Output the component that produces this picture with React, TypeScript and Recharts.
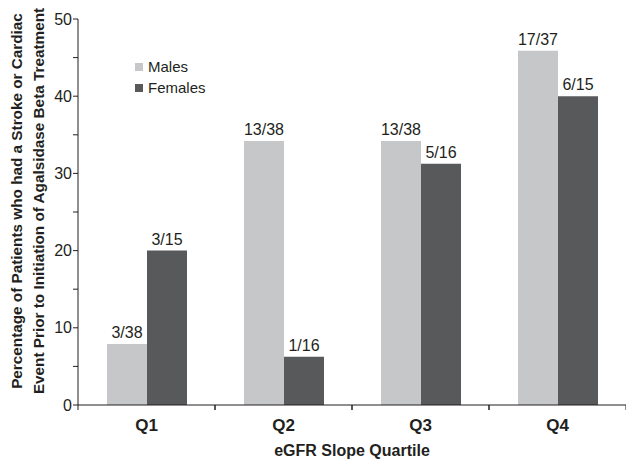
import { BarChart, Bar, XAxis, YAxis, Legend, LabelList } from 'recharts';

const quartiles = ['Q1', 'Q2', 'Q3', 'Q4'];
const malesPct = [7.9, 34.2, 34.2, 45.9];
const femalesPct = [20.0, 6.25, 31.25, 40.0];
const malesLabels = ['3/38', '13/38', '13/38', '17/37'];
const femalesLabels = ['3/15', '1/16', '5/16', '6/15'];
const yTicks = [0, 5, 10, 15, 20, 25, 30, 35, 40, 45, 50];
const legendOrder = ['Males', 'Females'];
const yTitle = [
  'Percentage of Patients who had a Stroke or Cardiac',
  'Event Prior to Initiation of Agalsidase Beta Treatment',
];

const INK = '#231f20';
const MALE = '#c6c7c9';
const FEMALE = '#58595b';
const FONT = '"Liberation Sans", Arial, sans-serif';

const CHART_W = 640;
const CHART_H = 463;
const MARGIN = { top: 19, right: 14, left: 0, bottom: 0 };
const Y_W = 78;
const BAND = (CHART_W - MARGIN.left - MARGIN.right - Y_W) / quartiles.length;

const data = quartiles.map((q, i) => ({
  q,
  males: malesPct[i],
  females: femalesPct[i],
  mLabel: malesLabels[i],
  fLabel: femalesLabels[i],
}));

// category label plus tick marks on the edges of each band
function QuartileTick(props: any) {
  const { x, y, payload } = props;
  const left = x - BAND / 2;
  const axisY = y - 8; // tickSize 6 + tickMargin 2
  return (
    <g>
      <line x1={left} y1={axisY} x2={left} y2={axisY + 5} stroke={INK} strokeWidth={1} />
      <line x1={left + BAND} y1={axisY} x2={left + BAND} y2={axisY + 5} stroke={INK} strokeWidth={1} />
      <text
        x={x}
        y={axisY + 26}
        textAnchor="middle"
        fontFamily={FONT}
        fontWeight="bold"
        fontSize={17}
        fill={INK}
      >
        {payload.value}
      </text>
    </g>
  );
}

function YTitle(props: any) {
  const { viewBox } = props;
  const cy = viewBox.y + viewBox.height / 2 - 11;
  return (
    <g>
      {yTitle.map((line, i) => (
        <text
          key={i}
          x={0}
          y={0}
          transform={`translate(${22 + i * 22}, ${cy}) rotate(-90)`}
          textAnchor="middle"
          fontFamily={FONT}
          fontWeight="bold"
          fontSize={15.3}
          fill={INK}
        >
          {line}
        </text>
      ))}
    </g>
  );
}

function LegendBox(props: any) {
  const items = [...(props.payload || [])].sort(
    (a: any, b: any) => legendOrder.indexOf(a.value) - legendOrder.indexOf(b.value)
  );
  return (
    <div style={{ fontFamily: FONT, fontSize: 15, color: INK }}>
      {items.map((p: any) => (
        <div key={p.value} style={{ display: 'flex', alignItems: 'center', height: 21 }}>
          <span
            style={{ display: 'inline-block', width: 8, height: 8, background: p.color, marginRight: 5 }}
          />
          <span>{p.value}</span>
        </div>
      ))}
    </div>
  );
}

export default function App() {
  return (
    <div
      style={{
        position: 'absolute',
        left: 0,
        top: 0,
        width: 626,
        height: 463,
        overflow: 'hidden',
        background: '#fff',
      }}
    >
      <BarChart width={CHART_W} height={CHART_H} data={data} margin={MARGIN} barGap={0} barSize={40}>
        <XAxis
          dataKey="q"
          height={58}
          axisLine={{ stroke: INK }}
          tickLine={false}
          tick={<QuartileTick />}
          interval={0}
          label={{
            value: 'eGFR Slope Quartile',
            position: 'insideBottom',
            offset: 7,
            fontFamily: FONT,
            fontWeight: 'bold',
            fontSize: 16,
            fill: INK,
          }}
        />
        <YAxis
          width={Y_W}
          domain={[0, 50]}
          ticks={yTicks}
          interval={0}
          tickSize={5}
          tickMargin={1}
          axisLine={{ stroke: INK }}
          tickLine={{ stroke: INK }}
          tickFormatter={(v) => (v % 10 === 0 ? String(v) : '')}
          tick={{ fontFamily: FONT, fontSize: 16, fill: INK }}
          label={{ content: <YTitle /> }}
        />
        <Legend
          layout="vertical"
          align="center"
          verticalAlign="middle"
          content={<LegendBox />}
          wrapperStyle={{ left: 135, top: 56, width: 'auto' }}
        />
        <Bar dataKey="males" name="Males" fill={MALE} isAnimationActive={false}>
          <LabelList dataKey="mLabel" position="top" offset={6} fontFamily={FONT} fontSize={16} fill={INK} />
        </Bar>
        <Bar dataKey="females" name="Females" fill={FEMALE} isAnimationActive={false}>
          <LabelList dataKey="fLabel" position="top" offset={6} fontFamily={FONT} fontSize={16} fill={INK} />
        </Bar>
      </BarChart>
    </div>
  );
}
